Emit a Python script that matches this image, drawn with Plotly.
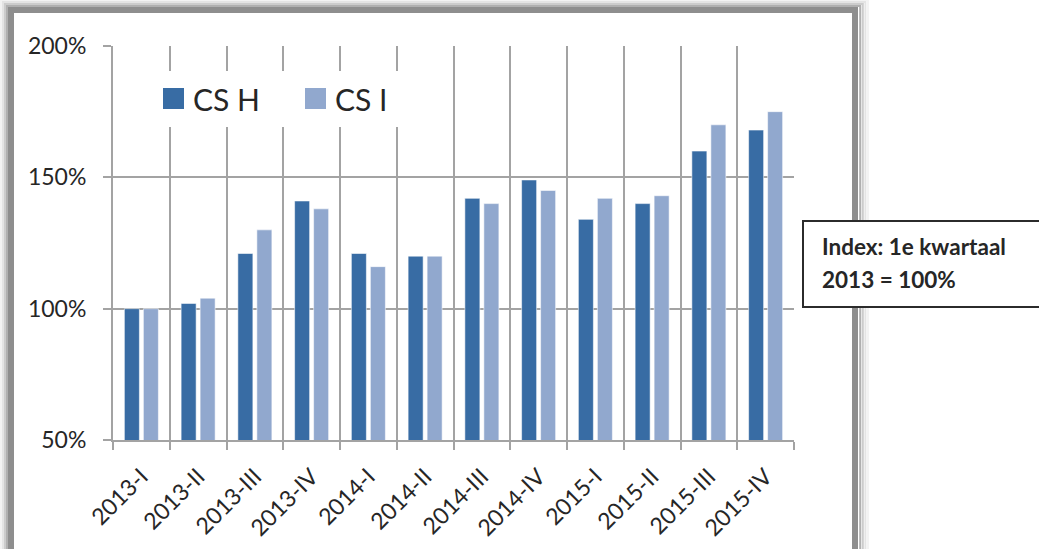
import plotly.graph_objects as go

categories = ["2013-I", "2013-II", "2013-III", "2013-IV", "2014-I", "2014-II",
              "2014-III", "2014-IV", "2015-I", "2015-II", "2015-III", "2015-IV"]
cs_h = [100, 102, 121, 141, 121, 120, 142, 149, 134, 140, 160, 168]
cs_i = [100, 104, 130, 138, 116, 120, 140, 145, 142, 143, 170, 175]
series_names = ["CS H", "CS I"]
series_colors = ["#386CA4", "#91A8CE"]
y_ticks = [50, 100, 150, 200]
note_lines = ["Index: 1e kwartaal", "2013 = 100%"]

W, H = 1039, 549
L, R, T, B = 113, 794, 46, 440


def px(x):
    return (x - L) / (R - L)


def py(y):
    return (B - y) / (B - T)


FONT = "Lato"
TXT = "#262626"
GRID = "#a3a3a3"

fig = go.Figure()
for name, vals, col in zip(series_names, [cs_h, cs_i], series_colors):
    fig.add_trace(go.Bar(x=categories, y=vals, name=name, marker_color=col,
                         marker_line=dict(color="rgba(255,255,255,0.55)", width=1),
                         showlegend=False))

shapes = []
# frame with soft shadow (outer, lighter first)
frame = [(10, 2, "#f3f3f3"), (8, 2, "#e4e4e4"), (6, 2, "#cccccc"),
         (4, 2, "#b0b0b0"), (0, 6, "#8e8e8e")]
for d, w, c in frame:
    shapes.append(dict(type="rect", xref="paper", yref="paper",
                       x0=px(11 - d), x1=px(855 + d * 1.3), y0=py(10 - d), y1=py(620),
                       line=dict(color=c, width=w), fillcolor="rgba(0,0,0,0)",
                       layer="below"))
# legend background
shapes.append(dict(type="rect", xref="paper", yref="paper",
                   x0=px(114), x1=px(420), y0=py(71), y1=py(127),
                   fillcolor="white", line=dict(width=0), layer="above"))
annotations = []
leg_x = [163, 305]
for i, (name, col) in enumerate(zip(series_names, series_colors)):
    shapes.append(dict(type="rect", xref="paper", yref="paper",
                       x0=px(leg_x[i]), x1=px(leg_x[i] + 21), y0=py(88), y1=py(109),
                       fillcolor=col, line=dict(width=0), layer="above"))
    annotations.append(dict(xref="paper", yref="paper", x=px(leg_x[i] + 28), y=py(99),
                            xanchor="left", yanchor="middle", text=name, showarrow=False,
                            font=dict(family=FONT, size=30, color=TXT)))
# note box
shapes.append(dict(type="rect", xref="paper", yref="paper",
                   x0=px(803), x1=px(1060), y0=py(221), y1=py(307),
                   fillcolor="white", line=dict(color="#2b2b2b", width=2), layer="above"))
for j, (line, yy) in enumerate(zip(note_lines, [246, 279])):
    annotations.append(dict(xref="paper", yref="paper", x=px(820), y=py(yy),
                            xanchor="left", yanchor="middle", text="<b>%s</b>" % line,
                            showarrow=False, font=dict(family=FONT, size=22.5, color=TXT)))

fig.update_layout(
    width=W, height=H,
    margin=dict(l=L, r=W - R, t=T, b=H - B, pad=0),
    paper_bgcolor="white", plot_bgcolor="white",
    barmode="group", bargap=0.33, bargroupgap=0.21,
    font=dict(family=FONT, size=22, color=TXT),
    shapes=shapes, annotations=annotations,
    xaxis=dict(type="category", tickson="boundaries", showgrid=True, gridcolor=GRID,
               gridwidth=2, showline=True, linecolor=GRID, linewidth=2,
               ticks="outside", ticklen=8, tickwidth=2, tickcolor=GRID,
               tickangle=-45, ticklabelstandoff=12, automargin=False,
               tickfont=dict(family=FONT, size=23, color=TXT)),
    yaxis=dict(range=[50, 200], tickvals=y_ticks, ticktext=["%d%%" % v for v in y_ticks],
               showgrid=True, gridcolor=GRID, gridwidth=2, showline=True,
               linecolor=GRID, linewidth=2, ticks="outside", ticklen=8, tickwidth=2,
               tickcolor=GRID, ticklabelstandoff=12, zeroline=False, automargin=False,
               tickfont=dict(family=FONT, size=23, color=TXT)),
)

fig.write_html("out.html", config={"displayModeBar": False},
               post_script="document.body.style.margin='0';document.body.style.overflow='hidden';")
